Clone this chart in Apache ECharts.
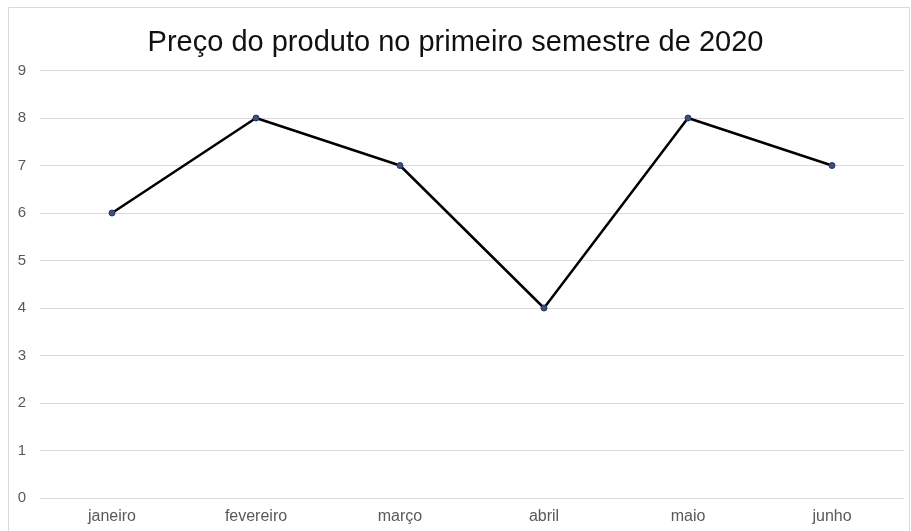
<!DOCTYPE html>
<html>
<head>
<meta charset="utf-8">
<script src="https://cdn.jsdelivr.net/npm/echarts@6/dist/echarts.min.js"></script>
<style>
  html, body { margin: 0; padding: 0; background: #fff; }
  #chart { width: 911px; height: 531px; }
</style>
</head>
<body>
<div id="chart"></div>
<script>
const meses = ['janeiro', 'fevereiro', 'março', 'abril', 'maio', 'junho'];
const precos = [6, 8, 7, 4, 8, 7];

const chart = echarts.init(document.getElementById('chart'));
const option = {
  backgroundColor: '#fff',
  textStyle: { fontFamily: 'Liberation Sans, Arial, sans-serif' },
  graphic: [{
    type: 'rect',
    shape: { x: 8.5, y: 7.5, width: 901, height: 540 },
    style: { fill: 'none', stroke: '#d9d9d9', lineWidth: 1 },
    silent: true
  }],
  title: {
    text: 'Preço do produto no primeiro semestre de 2020',
    left: 'center',
    top: 23,
    textStyle: { fontSize: 29, fontWeight: 'normal', color: '#111' }
  },
  grid: { left: 40, right: 7, top: 70.5, bottom: 33 },
  xAxis: {
    type: 'category',
    data: meses,
    boundaryGap: true,
    axisLine: { show: false },
    axisTick: { show: false },
    axisLabel: { color: '#595959', fontSize: 16, margin: 11 }
  },
  yAxis: {
    type: 'value',
    min: 0,
    max: 9,
    interval: 1,
    axisLabel: { color: '#595959', fontSize: 15, margin: 14 },
    splitLine: { lineStyle: { color: '#d9d9d9', width: 1 } }
  },
  series: [{
    type: 'line',
    data: precos,
    symbol: 'circle',
    symbolSize: 6,
    lineStyle: { color: '#000', width: 2.5 },
    itemStyle: { color: '#3b4f85', borderColor: '#27355e', borderWidth: 1 }
  }]
};
chart.setOption(option);
</script>
</body>
</html>
